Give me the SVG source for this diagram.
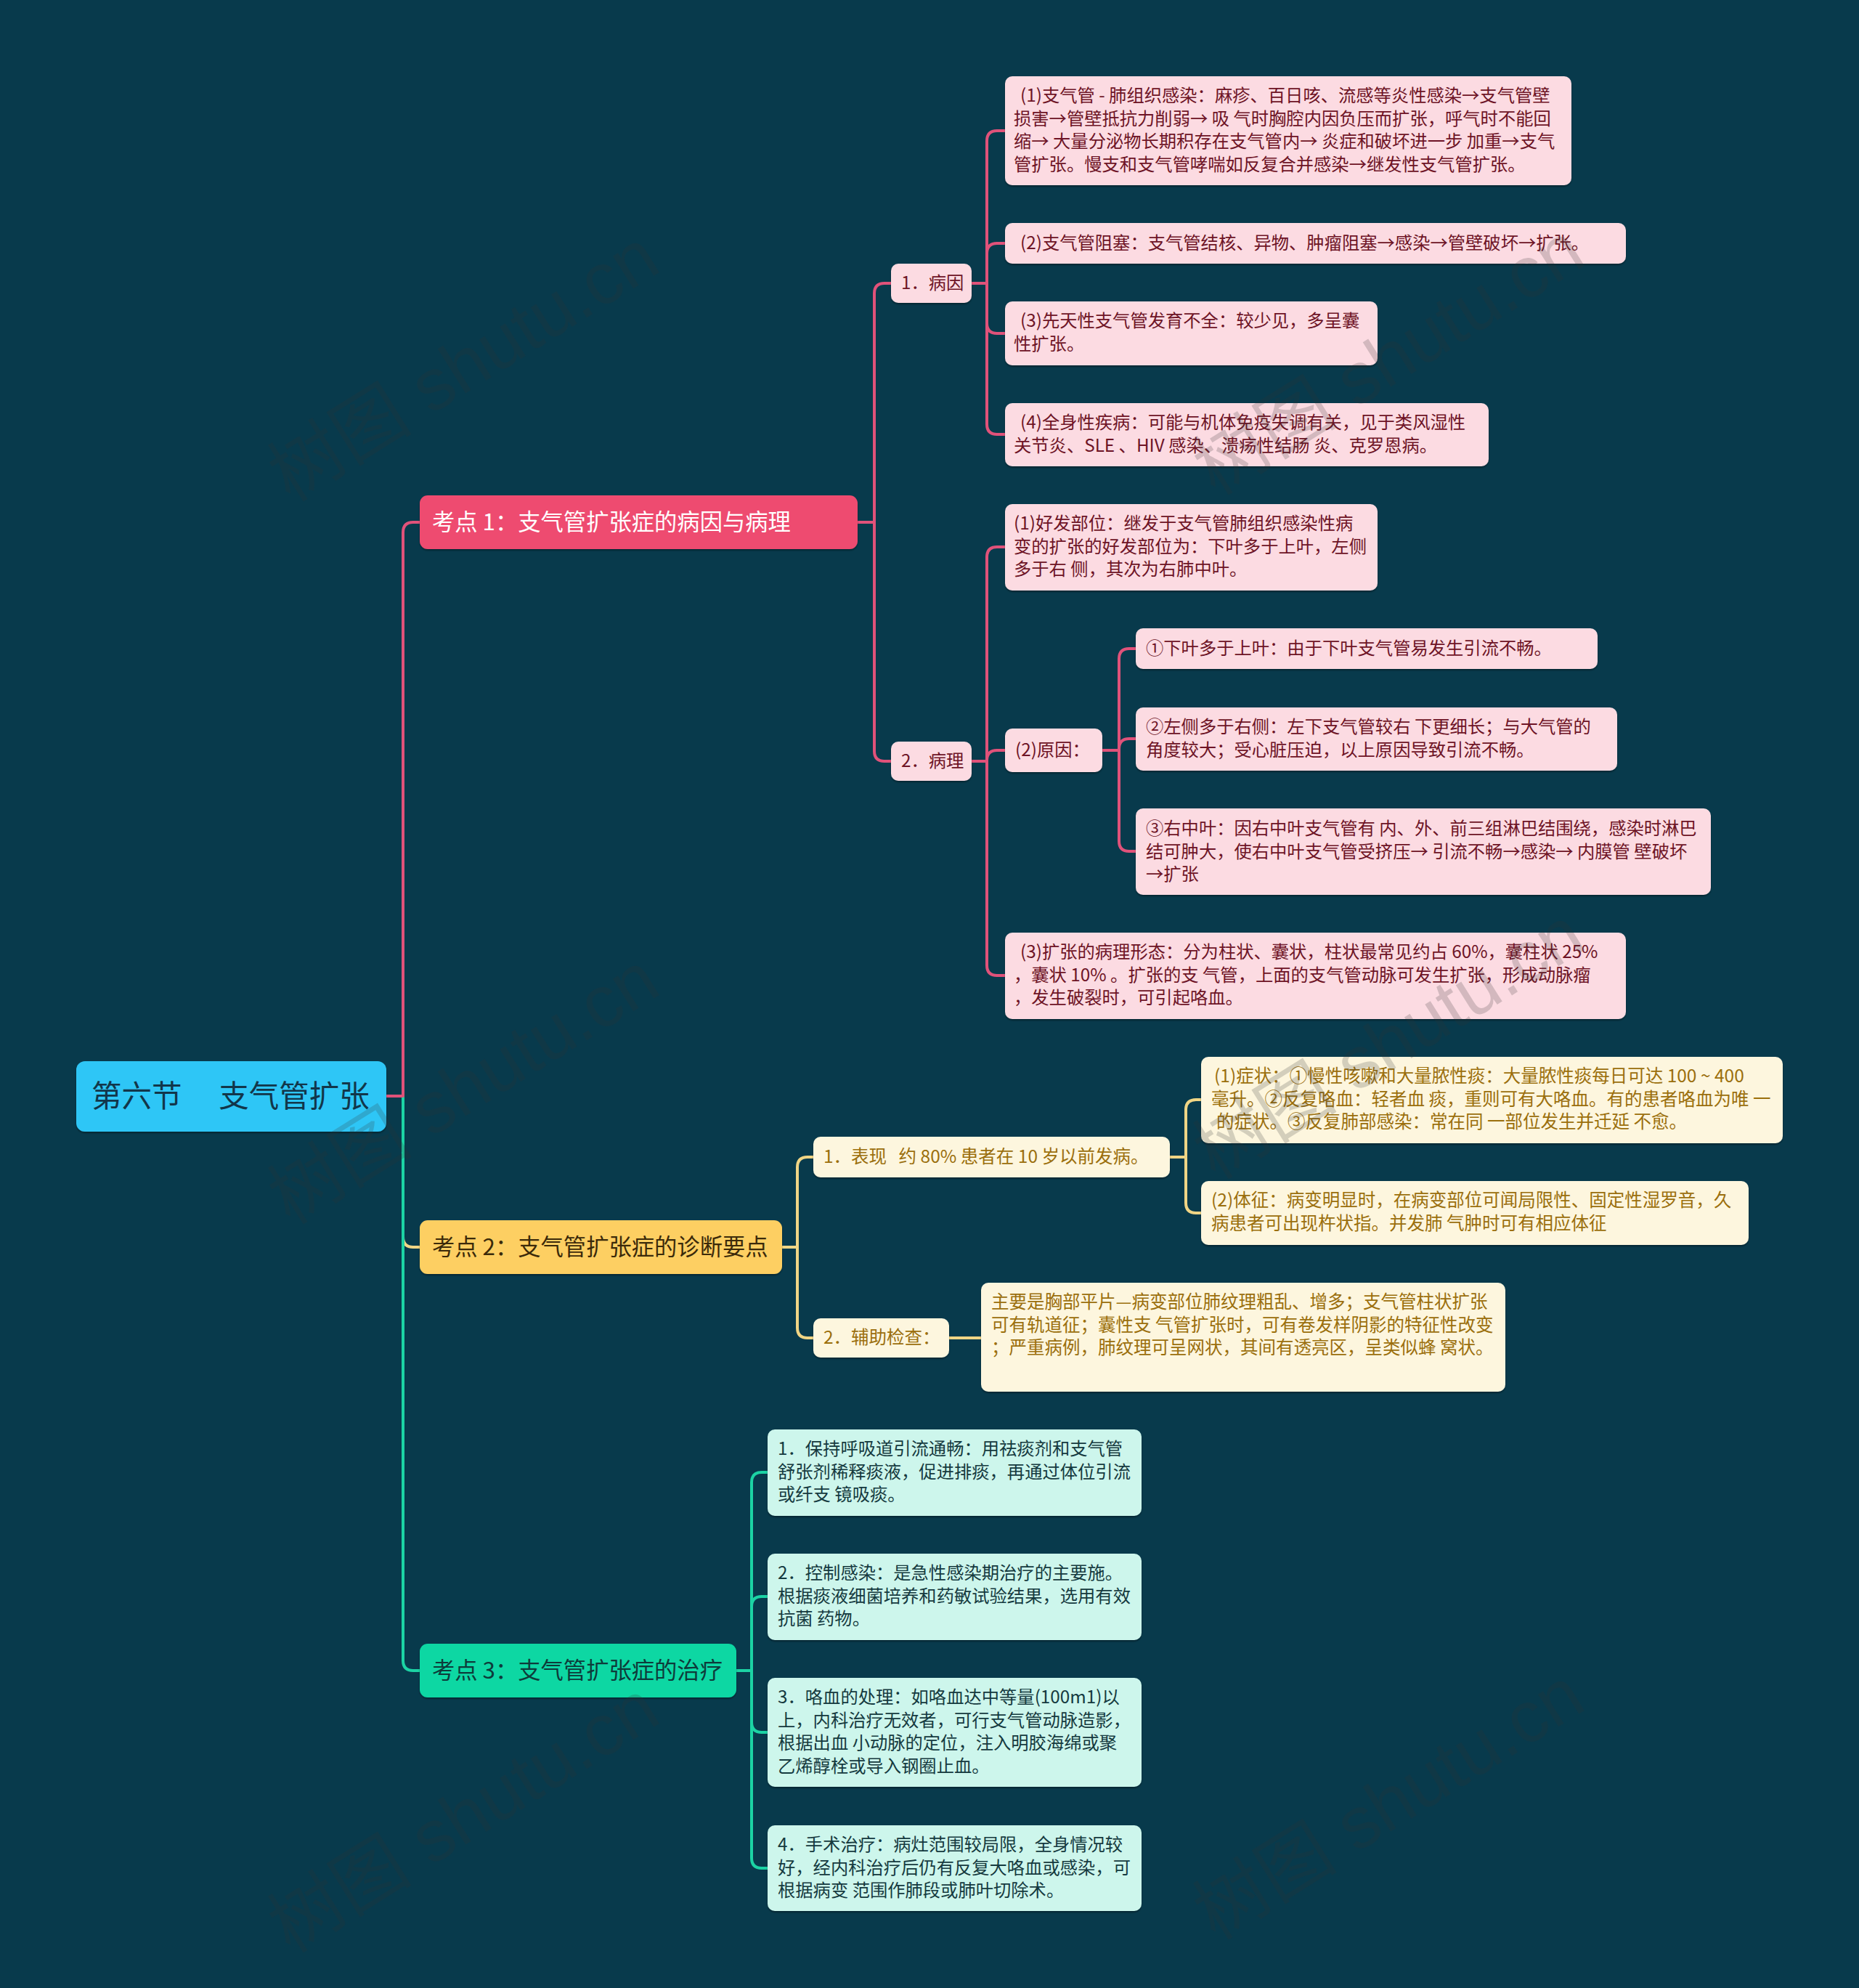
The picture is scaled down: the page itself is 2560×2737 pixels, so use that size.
<svg xmlns="http://www.w3.org/2000/svg" width="2560" height="2737" viewBox="0 0 2560 2737">
<defs>
<filter id="sh" x="-5%" y="-10%" width="110%" height="130%">
<feDropShadow dx="0" dy="2" stdDeviation="1.2" flood-color="#000" flood-opacity="0.35"/>
</filter>
</defs>
<style>
text{font-family:"Noto Sans CJK SC","Noto Sans",sans-serif;}
.c{fill:none;stroke-width:4;stroke-linecap:round;stroke-linejoin:round;}
.cp{stroke:#e0527a;}
.cy{stroke:#f0d585;}
.cg{stroke:#1cd3a4;}
.pk{fill:#fcdbe2;filter:url(#sh);}
.yl{fill:#fdf6de;filter:url(#sh);}
.gr{fill:#cdf6ec;filter:url(#sh);}
.tp{fill:#6e1426;font-size:24.3px;}
.ty{fill:#9b6f0d;font-size:24.5px;}
.tg{fill:#153a3f;font-size:24.3px;}
.top{font-size:31.3px;}
.wm{font-family:"Liberation Sans","Noto Sans CJK SC",sans-serif;font-size:100px;fill:#333;opacity:0.2;}
</style>
<rect x="0" y="0" width="2560" height="2737" fill="#083a4c"/>

<g id="connectors">
<path class="c cy" d="M532 1509 H555 V1703 Q555 1717 569 1717 H578"/>
<path class="c cg" d="M532 1509 H555 V2286 Q555 2300 569 2300 H578"/>
<path class="c cp" d="M532 1509 H555 V733 Q555 719 569 719 H578"/>
<path class="c cp" d="M1181 719 H1204 V404 Q1204 390 1218 390 H1227"/>
<path class="c cp" d="M1181 719 H1204 V1034 Q1204 1048 1218 1048 H1227"/>
<path class="c cp" d="M1338 390 H1359 V194 Q1359 180 1373 180 H1384"/>
<path class="c cp" d="M1338 390 H1359 V349 Q1359 335 1373 335 H1384"/>
<path class="c cp" d="M1338 390 H1359 V445 Q1359 459 1373 459 H1384"/>
<path class="c cp" d="M1338 390 H1359 V584 Q1359 598 1373 598 H1384"/>
<path class="c cp" d="M1338 1048 H1359 V767 Q1359 753 1373 753 H1384"/>
<path class="c cp" d="M1338 1048 H1359 V1047 Q1359 1033 1373 1033 H1384"/>
<path class="c cp" d="M1338 1048 H1359 V1329 Q1359 1343 1373 1343 H1384"/>
<path class="c cp" d="M1518 1033 H1541 V907 Q1541 893 1555 893 H1564"/>
<path class="c cp" d="M1518 1033 H1541 V1031 Q1541 1017 1555 1017 H1564"/>
<path class="c cp" d="M1518 1033 H1541 V1158 Q1541 1172 1555 1172 H1564"/>
<path class="c cy" d="M1077 1717 H1098 V1607 Q1098 1593 1112 1593 H1120"/>
<path class="c cy" d="M1077 1717 H1098 V1828 Q1098 1842 1112 1842 H1120"/>
<path class="c cy" d="M1611 1593 H1633 V1528 Q1633 1514 1647 1514 H1654"/>
<path class="c cy" d="M1611 1593 H1633 V1656 Q1633 1670 1647 1670 H1654"/>
<path class="c cy" d="M1307 1842 H1351"/>
<path class="c cg" d="M1014 2300 H1035 V2041 Q1035 2027 1049 2027 H1057"/>
<path class="c cg" d="M1014 2300 H1035 V2212 Q1035 2198 1049 2198 H1057"/>
<path class="c cg" d="M1014 2300 H1035 V2371 Q1035 2385 1049 2385 H1057"/>
<path class="c cg" d="M1014 2300 H1035 V2558 Q1035 2572 1049 2572 H1057"/>
</g>

<g id="root">
<rect x="105" y="1461" width="427" height="97" rx="12" fill="#2fc6f6" filter="url(#sh)"/>
<text x="126" y="1524" font-size="41.5" fill="#12364a" xml:space="preserve">第六节　 支气管扩张</text>
</g>

<g id="k1">
<rect x="578" y="682" width="603" height="74" rx="11" fill="#ee4b6f" filter="url(#sh)"/>
<text class="top" x="595" y="730" fill="#ffffff">考点 1：支气管扩张症的病因与病理</text>
</g>
<g id="k2">
<rect x="578" y="1680" width="499" height="74" rx="11" fill="#fdcf62" filter="url(#sh)"/>
<text class="top" x="595" y="1728" fill="#3b2a0a">考点 2：支气管扩张症的诊断要点</text>
</g>
<g id="k3">
<rect x="578" y="2263" width="436" height="74" rx="11" fill="#0ad7a3" filter="url(#sh)"/>
<text class="top" x="595" y="2311" fill="#0d3b3a">考点 3：支气管扩张症的治疗</text>
</g>

<g id="bingyin">
<rect class="pk" x="1227" y="363" width="111" height="54" rx="10"/>
<text class="tp" x="1241" y="398">1．病因</text>
</g>
<g id="bingli">
<rect class="pk" x="1227" y="1021" width="111" height="54" rx="10"/>
<text class="tp" x="1241" y="1056">2．病理</text>
</g>

<g id="by1">
<rect class="pk" x="1384" y="105" width="780" height="150" rx="10"/>
<text class="tp"><tspan x="1405" y="140">(1)支气管 - 肺组织感染：麻疹、百日咳、流感等炎性感染→支气管壁</tspan><tspan x="1396" y="171.5">损害→管壁抵抗力削弱→ 吸 气时胸腔内因负压而扩张，呼气时不能回</tspan><tspan x="1396" y="203">缩→ 大量分泌物长期积存在支气管内→ 炎症和破坏进一步 加重→支气</tspan><tspan x="1396" y="234.5">管扩张。慢支和支气管哮喘如反复合并感染→继发性支气管扩张。</tspan></text>
</g>
<g id="by2">
<rect class="pk" x="1384" y="307" width="855" height="56" rx="10"/>
<text class="tp" x="1405" y="343">(2)支气管阻塞：支气管结核、异物、肿瘤阻塞→感染→管壁破坏→扩张。</text>
</g>
<g id="by3">
<rect class="pk" x="1384" y="415" width="513" height="88" rx="10"/>
<text class="tp"><tspan x="1405" y="450">(3)先天性支气管发育不全：较少见，多呈囊</tspan><tspan x="1396" y="481.5">性扩张。</tspan></text>
</g>
<g id="by4">
<rect class="pk" x="1384" y="555" width="666" height="87" rx="10"/>
<text class="tp"><tspan x="1405" y="590">(4)全身性疾病：可能与机体免疫失调有关，见于类风湿性</tspan><tspan x="1396" y="621.5">关节炎、SLE 、HIV 感染、溃疡性结肠 炎、克罗恩病。</tspan></text>
</g>

<g id="bl1">
<rect class="pk" x="1384" y="694" width="513" height="119" rx="10"/>
<text class="tp"><tspan x="1396" y="729">(1)好发部位：继发于支气管肺组织感染性病</tspan><tspan x="1396" y="760.5">变的扩张的好发部位为：下叶多于上叶，左侧</tspan><tspan x="1396" y="792">多于右 侧，其次为右肺中叶。</tspan></text>
</g>
<g id="bl2">
<rect class="pk" x="1384" y="1003" width="134" height="60" rx="10"/>
<text class="tp" x="1398" y="1041">(2)原因：</text>
</g>
<g id="bl3">
<rect class="pk" x="1384" y="1284" width="855" height="119" rx="10"/>
<text class="tp"><tspan x="1405" y="1319">(3)扩张的病理形态：分为柱状、囊状，柱状最常见约占 60%，囊柱状 25%</tspan><tspan x="1396" y="1350.5">，囊状 10% 。扩张的支 气管，上面的支气管动脉可发生扩张，形成动脉瘤</tspan><tspan x="1396" y="1382">，发生破裂时，可引起咯血。</tspan></text>
</g>
<g id="yy1">
<rect class="pk" x="1564" y="865" width="636" height="56" rx="10"/>
<text class="tp" x="1578" y="901">①下叶多于上叶：由于下叶支气管易发生引流不畅。</text>
</g>
<g id="yy2">
<rect class="pk" x="1564" y="974" width="663" height="87" rx="10"/>
<text class="tp"><tspan x="1578" y="1009">②左侧多于右侧：左下支气管较右 下更细长；与大气管的</tspan><tspan x="1578" y="1040.5">角度较大；受心脏压迫，以上原因导致引流不畅。</tspan></text>
</g>
<g id="yy3">
<rect class="pk" x="1564" y="1113" width="792" height="119" rx="10"/>
<text class="tp"><tspan x="1578" y="1149">③右中叶：因右中叶支气管有 内、外、前三组淋巴结围绕，感染时淋巴</tspan><tspan x="1578" y="1180.5">结可肿大，使右中叶支气管受挤压→ 引流不畅→感染→ 内膜管 壁破坏</tspan><tspan x="1578" y="1212">→扩张</tspan></text>
</g>

<g id="bx">
<rect class="yl" x="1120" y="1565" width="491" height="56" rx="10"/>
<text class="ty" x="1134" y="1601" xml:space="preserve">1．表现   约 80% 患者在 10 岁以前发病。</text>
</g>
<g id="fz">
<rect class="yl" x="1120" y="1815" width="187" height="54" rx="10"/>
<text class="ty" x="1134" y="1850">2．辅助检查：</text>
</g>
<g id="zz">
<rect class="yl" x="1654" y="1455" width="801" height="119" rx="10"/>
<text class="ty"><tspan x="1672" y="1490">(1)症状：①慢性咳嗽和大量脓性痰：大量脓性痰每日可达 100 ~ 400</tspan><tspan x="1668" y="1521.5">毫升。②反复咯血：轻者血 痰，重则可有大咯血。有的患者咯血为唯 一</tspan><tspan x="1675" y="1553">的症状。③反复肺部感染：常在同 一部位发生并迁延 不愈。</tspan></text>
</g>
<g id="tz">
<rect class="yl" x="1654" y="1626" width="754" height="88" rx="10"/>
<text class="ty"><tspan x="1668" y="1661">(2)体征：病变明显时，在病变部位可闻局限性、固定性湿罗音，久</tspan><tspan x="1668" y="1692.5">病患者可出现杵状指。并发肺 气肿时可有相应体征</tspan></text>
</g>
<g id="fzbox">
<rect class="yl" x="1351" y="1766" width="722" height="150" rx="10"/>
<text class="ty"><tspan x="1365" y="1801">主要是胸部平片—病变部位肺纹理粗乱、增多；支气管柱状扩张</tspan><tspan x="1365" y="1832.5">可有轨道征；囊性支 气管扩张时，可有卷发样阴影的特征性改变</tspan><tspan x="1365" y="1864">；严重病例，肺纹理可呈网状，其间有透亮区，呈类似蜂 窝状。</tspan></text>
</g>

<g id="zl1">
<rect class="gr" x="1057" y="1968" width="515" height="119" rx="10"/>
<text class="tg"><tspan x="1071" y="2003">1．保持呼吸道引流通畅：用祛痰剂和支气管</tspan><tspan x="1071" y="2034.5">舒张剂稀释痰液，促进排痰，再通过体位引流</tspan><tspan x="1071" y="2066">或纤支 镜吸痰。</tspan></text>
</g>
<g id="zl2">
<rect class="gr" x="1057" y="2139" width="515" height="119" rx="10"/>
<text class="tg"><tspan x="1071" y="2174">2．控制感染：是急性感染期治疗的主要施。</tspan><tspan x="1071" y="2205.5">根据痰液细菌培养和药敏试验结果，选用有效</tspan><tspan x="1071" y="2237">抗菌 药物。</tspan></text>
</g>
<g id="zl3">
<rect class="gr" x="1057" y="2310" width="515" height="150" rx="10"/>
<text class="tg"><tspan x="1071" y="2345">3．咯血的处理：如咯血达中等量(100m1)以</tspan><tspan x="1071" y="2376.5">上，内科治疗无效者，可行支气管动脉造影，</tspan><tspan x="1071" y="2408">根据出血 小动脉的定位，注入明胶海绵或聚</tspan><tspan x="1071" y="2439.5">乙烯醇栓或导入钢圈止血。</tspan></text>
</g>
<g id="zl4">
<rect class="gr" x="1057" y="2513" width="515" height="118" rx="10"/>
<text class="tg"><tspan x="1071" y="2548">4．手术治疗：病灶范围较局限，全身情况较</tspan><tspan x="1071" y="2579.5">好，经内科治疗后仍有反复大咯血或感染，可</tspan><tspan x="1071" y="2611">根据病变 范围作肺段或肺叶切除术。</tspan></text>
</g>

<g id="watermark">
<text class="wm" x="646" y="535" text-anchor="middle" transform="rotate(-32 646 515)">树图 shutu.cn</text>
<text class="wm" x="646" y="1530" text-anchor="middle" transform="rotate(-32 646 1510)">树图 shutu.cn</text>
<text class="wm" x="646" y="2533" text-anchor="middle" transform="rotate(-32 646 2513)">树图 shutu.cn</text>
<text class="wm" x="1920" y="526" text-anchor="middle" transform="rotate(-32 1920 506)">树图 shutu.cn</text>
<text class="wm" x="1920" y="1468" text-anchor="middle" transform="rotate(-32 1920 1448)">树图 shutu.cn</text>
<text class="wm" x="1920" y="2515" text-anchor="middle" transform="rotate(-32 1920 2495)">树图 shutu.cn</text>
</g>
</svg>
